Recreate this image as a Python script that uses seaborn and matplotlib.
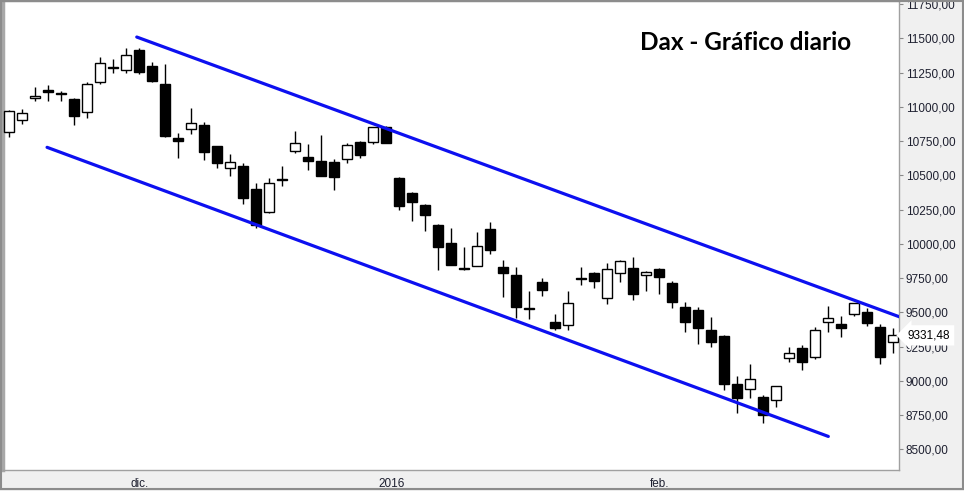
import matplotlib
matplotlib.use("Agg")
import matplotlib.pyplot as plt
from matplotlib.patches import Rectangle
import seaborn as sns
import pandas as pd
import numpy as np

# === Data (DAX daily, 17 Nov 2015 - 25 Feb 2016) ===
holidays = ["2015-12-24", "2015-12-25", "2015-12-31", "2016-01-01"]
dates = pd.bdate_range("2015-11-17", "2016-02-25").drop(pd.to_datetime(holidays), errors="ignore")

opens = [10814, 10901, 11062, 11120, 11100, 11057, 10960, 11179, 11290, 11266,
         11414, 11298, 11166, 10770, 10836, 10867, 10714, 10551, 10568, 10400,
         10234, 10472, 10680, 10634, 10604, 10597, 10621, 10743, 10745, 10850,
         10478, 10371, 10281, 10137, 10006, 9822, 9836, 10106, 9831, 9770,
         9535, 9721, 9427, 9405, 9752, 9787, 9602, 9785, 9823, 9770,
         9814, 9712, 9536, 9515, 9369, 9327, 8977, 8938, 8882, 8858,
         9164, 9237, 9171, 9427, 9415, 9485, 9502, 9393, 9281]
highs = [10975, 10982, 11144, 11157, 11117, 11062, 11179, 11361, 11347, 11429,
         11431, 11325, 11315, 10809, 10991, 10887, 10714, 10653, 10588, 10444,
         10480, 10568, 10823, 10728, 10794, 10617, 10736, 10748, 10850, 10858,
         10485, 10378, 10290, 10144, 10115, 9977, 10086, 10159, 9882, 9828,
         9655, 9750, 9488, 9655, 9831, 9792, 9858, 9880, 9904, 9801,
         9823, 9726, 9575, 9536, 9463, 9334, 9035, 9123, 8894, 8960,
         9247, 9261, 9393, 9546, 9473, 9570, 9531, 9415, 9385]
lows = [10782, 10877, 11044, 11044, 11044, 10869, 10920, 11166, 11244, 11249,
        11237, 11183, 10782, 10628, 10804, 10612, 10555, 10497, 10293, 10118,
        10227, 10424, 10660, 10539, 10497, 10393, 10592, 10628, 10730, 10738,
        10249, 10169, 10096, 9809, 9847, 9806, 9836, 9928, 9614, 9460,
        9451, 9619, 9371, 9371, 9701, 9680, 9563, 9723, 9590, 9655,
        9636, 9534, 9354, 9271, 9249, 8935, 8767, 8877, 8694, 8811,
        9135, 9077, 9157, 9354, 9317, 9473, 9402, 9125, 9201]
closes = [10969, 10952, 11077, 11110, 11090, 10935, 11164, 11317, 11285, 11376,
          11256, 11190, 10789, 10752, 10880, 10672, 10592, 10595, 10334, 10135,
          10444, 10462, 10733, 10607, 10497, 10490, 10719, 10650, 10850, 10738,
          10278, 10307, 10212, 9979, 9847, 9815, 9982, 9957, 9789, 9541,
          9524, 9665, 9388, 9566, 9745, 9731, 9814, 9872, 9636, 9792,
          9755, 9577, 9431, 9388, 9285, 8979, 8877, 9013, 8753, 8960,
          9201, 9135, 9369, 9456, 9388, 9566, 9420, 9171, 9331.48]

# channel lines: (trading-day position, value)
upper_x = [9.8, 68.5]
upper_y = [11509, 9466]
lower_x = [2.9, 63.0]
lower_y = [10704, 8594]

month_labels = ["dic.", "2016", "feb."]
y_ticks = list(range(8500, 11751, 250))
last_price = closes[-1]
title = "Dax - Gráfico diario"

df = pd.DataFrame({"date": dates[:len(closes)], "open": opens, "high": highs,
                   "low": lows, "close": closes})
df["pos"] = np.arange(len(df))

chan = pd.DataFrame({
    "pos": upper_x + lower_x,
    "value": upper_y + lower_y,
    "line": ["upper"] * 2 + ["lower"] * 2,
})

# === Plot ===
sns.set_style("white")
plt.rcParams["font.family"] = ["Liberation Sans", "DejaVu Sans"]

fig = plt.figure(figsize=(9.64, 4.91), dpi=100, facecolor="#f0f0f0")
ax = fig.add_axes([3 / 964, 21 / 491, 896.3 / 964, 469 / 491])
ax.set_facecolor("white")

# wicks
ax.vlines(df["pos"], df["low"], df["high"], color="black", linewidth=1, zorder=2)
# bodies
body_bottom = np.minimum(df["open"], df["close"])
body_height = np.maximum(np.abs(df["close"] - df["open"]), 8)
fills = np.where(df["close"] >= df["open"], "white", "black")
ax.bar(df["pos"], body_height, bottom=body_bottom, width=0.76, color=fills,
       edgecolor="black", linewidth=1, zorder=3)

# channel
sns.lineplot(data=chan, x="pos", y="value", hue="line", units="line", estimator=None,
             palette={"upper": "#0d10f0", "lower": "#0d10f0"}, linewidth=2.3,
             legend=False, ax=ax, zorder=4)

ax.set_xlim(-0.49, 68.46)
ax.set_ylim(8349, 11772)
ax.set_xlabel("")
ax.set_ylabel("")

# x ticks
first_dec = int(df.index[df["date"] == "2015-12-01"][0])
first_jan = int(df.index[df["date"].dt.year == 2016][0])
first_feb = int(df.index[df["date"] == "2016-02-01"][0])
ax.set_xticks([first_dec, first_jan - 0.6, first_feb])
ax.set_xticklabels(month_labels, fontsize=8.5, color="#222222")

# y ticks right
ax.yaxis.tick_right()
ax.set_yticks(y_ticks)
ax.set_yticklabels([f"{v},00" for v in y_ticks], fontsize=8.5, color="#222233")
ax.tick_params(axis="both", direction="out", length=3, width=0.8, colors="#888888",
               labelcolor="#1e2030", pad=1.5)
ax.tick_params(axis="x", pad=2.5)

for side in ["top", "right", "bottom"]:
    ax.spines[side].set_color("#a0a0a0")
    ax.spines[side].set_linewidth(1)
ax.spines["left"].set_color("#a8a8a8")
ax.spines["left"].set_linewidth(2.5)
ax.spines["top"].set_color("#8a8a8a")

# last price marker
ax.annotate(f"{last_price:.2f}".replace(".", ","), xy=(1.0, last_price),
            xycoords=("axes fraction", "data"), xytext=(6, 0), textcoords="offset points",
            va="center", ha="left", fontsize=8.5, color="black",
            bbox=dict(boxstyle="larrow,pad=0.35", fc="white", ec="none"))

# title
fig.text(746 / 964, 1 - 50 / 491, title, ha="center", va="baseline",
         fontsize=17.5, fontweight="bold", family=["Lato", "DejaVu Sans"], color="black")

# outer frame
fig.patches.append(Rectangle((0.0008, 0.0035), 0.998, 0.995, transform=fig.transFigure,
                             fill=False, edgecolor="#8c8c8c", linewidth=1.5))

fig.savefig("out.png", dpi=100, facecolor=fig.get_facecolor())
